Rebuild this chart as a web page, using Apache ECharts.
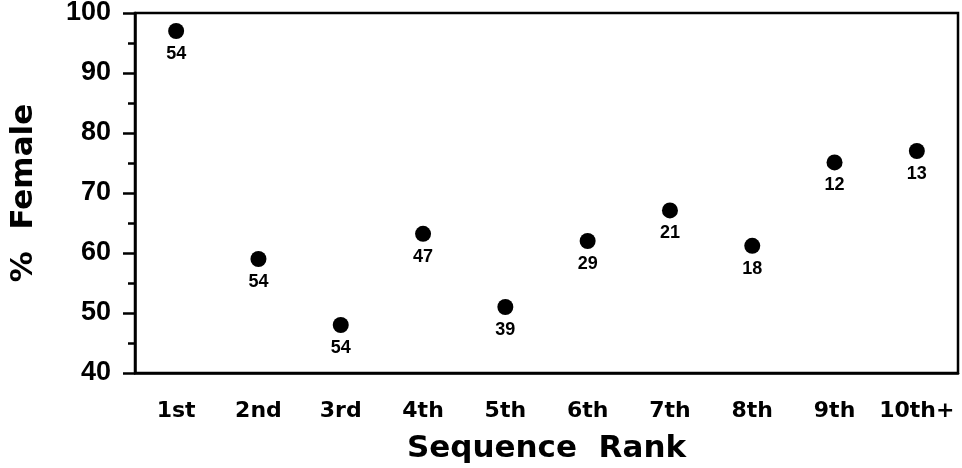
<!DOCTYPE html>
<html>
<head>
<meta charset="utf-8">
<script src="https://cdn.jsdelivr.net/npm/echarts@6/dist/echarts.min.js"></script>
<style>
  html, body { margin: 0; padding: 0; background: #fff; }
  #chart { width: 962px; height: 468px; }
</style>
</head>
<body>
<div id="chart"></div>
<script>
const ranks = ['1st', '2nd', '3rd', '4th', '5th', '6th', '7th', '8th', '9th', '10th+'];
const pctFemale = [97, 59, 48, 63.2, 51, 62, 67.1, 61.2, 75.1, 77];
const counts = [54, 54, 54, 47, 39, 29, 21, 18, 12, 13];

const chart = echarts.init(document.getElementById('chart'), null, { renderer: 'canvas' });

const font = 'Liberation Sans, Arial, Helvetica, sans-serif';
const wide = 'DejaVu Sans, Liberation Sans, sans-serif';

const option = {
  animation: false,
  backgroundColor: '#fff',
  grid: {
    left: 135, right: 4, top: 13, bottom: 95,
    outerBoundsMode: 'none',
    containLabel: false,
    show: true,
    borderColor: '#000',
    borderWidth: 2.5,
    backgroundColor: 'transparent'
  },
  xAxis: {
    type: 'category',
    data: ranks,
    boundaryGap: true,
    name: 'Sequence  Rank',
    nameLocation: 'middle',
    nameGap: 60,
    nameTextStyle: { fontFamily: wide, fontWeight: 'bold', fontSize: 31, color: '#000' },
    axisLine: { lineStyle: { color: '#000', width: 2.5 } },
    axisTick: { alignWithLabel: true, interval: 0, length: 8, lineStyle: { color: '#000', width: 2.5 } },
    axisLabel: { interval: 0, hideOverlap: false, margin: 27, fontFamily: wide, fontWeight: 'bold', fontSize: 22, color: '#000' },
    splitLine: { show: false }
  },
  yAxis: {
    type: 'value',
    min: 40, max: 100, interval: 10,
    name: '%  Female',
    nameLocation: 'middle',
    nameGap: 96,
    nameTextStyle: { fontFamily: wide, fontWeight: 'bold', fontSize: 31, color: '#000' },
    axisLine: { show: true, lineStyle: { color: '#000', width: 2.5 } },
    axisTick: { show: true, length: 12, lineStyle: { color: '#000', width: 2.5 } },
    minorTick: { show: true, splitNumber: 2, length: 7, lineStyle: { color: '#000', width: 2.5 } },
    axisLabel: { margin: 24, fontFamily: font, fontWeight: 'bold', fontSize: 27, color: '#000' },
    splitLine: { show: false }
  },
  series: [{
    type: 'scatter',
    data: pctFemale,
    symbol: 'circle',
    symbolSize: 16,
    itemStyle: { color: '#000', opacity: 1 },
    label: {
      show: true,
      position: 'bottom',
      distance: 6,
      formatter: p => String(counts[p.dataIndex]),
      fontFamily: font,
      fontWeight: 'bold',
      fontSize: 18,
      color: '#000'
    }
  }]
};

chart.setOption(option);
</script>
</body>
</html>
